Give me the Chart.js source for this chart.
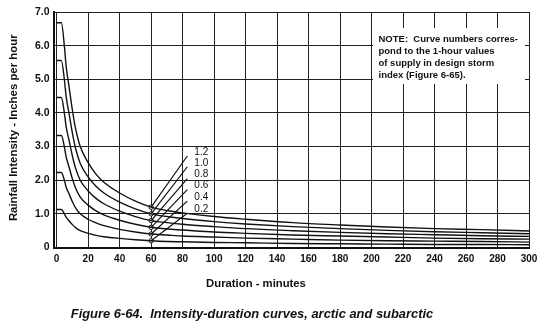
<!DOCTYPE html>
<html>
<head>
<meta charset="utf-8">
<script src="https://cdn.jsdelivr.net/npm/chart.js@4/dist/chart.umd.min.js"></script>
<style>
  html, body { margin: 0; padding: 0; background: #fff; }
  #wrap { width: 550px; height: 335px; position: relative; }
</style>
</head>
<body>
<div id="wrap"><canvas id="c" width="550" height="335"></canvas></div>
<script>
// ---- data ----
const durations = [0, 3, 5, 6, 8, 10, 12, 15, 20, 25, 30, 40, 50, 60, 70, 80, 100, 120, 150, 180, 210, 240, 270, 300];
const curve12 = [6.68, 6.68, 5.94, 5.40, 4.74, 4.08, 3.54, 3.00, 2.52, 2.18, 1.94, 1.62, 1.38, 1.20, 1.10, 1.03, 0.92, 0.84, 0.74, 0.67, 0.61, 0.56, 0.53, 0.49];
const curve10 = [5.56, 5.56, 4.95, 4.50, 3.95, 3.40, 2.95, 2.50, 2.10, 1.82, 1.62, 1.35, 1.15, 1.00, 0.92, 0.86, 0.77, 0.70, 0.62, 0.56, 0.51, 0.47, 0.44, 0.41];
const curve08 = [4.46, 4.46, 3.96, 3.60, 3.16, 2.72, 2.36, 2.00, 1.68, 1.46, 1.30, 1.08, 0.92, 0.80, 0.74, 0.69, 0.62, 0.56, 0.50, 0.45, 0.41, 0.38, 0.35, 0.33];
const curve06 = [3.33, 3.33, 2.97, 2.70, 2.37, 2.04, 1.77, 1.50, 1.26, 1.09, 0.97, 0.81, 0.69, 0.60, 0.55, 0.52, 0.46, 0.42, 0.37, 0.34, 0.31, 0.28, 0.26, 0.25];
const curve04 = [2.23, 2.23, 1.98, 1.80, 1.58, 1.36, 1.18, 1.00, 0.84, 0.73, 0.65, 0.54, 0.46, 0.40, 0.37, 0.34, 0.31, 0.28, 0.25, 0.22, 0.20, 0.19, 0.18, 0.16];
const curve02 = [1.13, 1.13, 0.99, 0.90, 0.79, 0.68, 0.59, 0.50, 0.42, 0.36, 0.32, 0.27, 0.23, 0.20, 0.18, 0.17, 0.15, 0.14, 0.12, 0.11, 0.10, 0.09, 0.09, 0.08];
const curveLabels = ["1.2", "1.0", "0.8", "0.6", "0.4", "0.2"];
const oneHourValues = [1.2, 1.0, 0.8, 0.6, 0.4, 0.2];
const oneHourDuration = 60;
const leaderEndDuration = 83;
const leaderEndValues = [2.72, 2.40, 2.05, 1.72, 1.38, 1.02];
const xTicks = [0, 20, 40, 60, 80, 100, 120, 140, 160, 180, 200, 220, 240, 260, 280, 300];
const yTicks = [0, 1, 2, 3, 4, 5, 6, 7];
const yTitle = "Rainfall Intensity - Inches per hour";
const xTitle = "Duration - minutes";
const caption = "Figure 6-64.  Intensity-duration curves, arctic and subarctic";
const noteLines = ["NOTE:  Curve numbers corres-", "pond to the 1-hour values", "of supply in design storm", "index (Figure 6-65)."];

// ---- build datasets ----
const curves = [curve12, curve10, curve08, curve06, curve04, curve02];
const datasets = [];
curves.forEach((vals, i) => {
  datasets.push({
    label: curveLabels[i],
    data: durations.map((d, j) => ({ x: d, y: vals[j] })),
    borderColor: '#111', borderWidth: 1.4, pointRadius: 0,
    cubicInterpolationMode: 'monotone', fill: false
  });
});
oneHourValues.forEach((v, i) => {
  datasets.push({
    label: 'leader ' + curveLabels[i],
    data: [{ x: oneHourDuration, y: v }, { x: leaderEndDuration, y: leaderEndValues[i] }],
    borderColor: '#111', borderWidth: 1.2, pointRadius: 0, tension: 0, fill: false
  });
});
datasets.push({
  label: 'one-hour points',
  data: oneHourValues.map(v => ({ x: oneHourDuration, y: v })),
  showLine: false, pointRadius: 2.2, pointBorderWidth: 1,
  pointBackgroundColor: '#fff', pointBorderColor: '#111'
});

const FONT = "'Liberation Sans', Arial, sans-serif";

const textPlugin = {
  id: 'texts',
  beforeDatasetsDraw(chart) {
    const { ctx, chartArea: a } = chart;
    ctx.save();
    // white note box
    ctx.fillStyle = '#fff';
    ctx.fillRect(a.left + 319.5, a.top + 16, 152, 56);
    ctx.fillStyle = '#111';
    ctx.font = "bold 9.5px " + FONT;
    ctx.textBaseline = 'middle';
    ctx.textAlign = 'left';
    noteLines.forEach((t, i) => ctx.fillText(t, a.left + 325, a.top + 27.5 + i * 11.8));
    ctx.restore();
  },
  afterDatasetsDraw(chart) {
    const { ctx, chartArea: a, scales: { x, y } } = chart;
    ctx.save();
    ctx.fillStyle = '#111';
    // curve labels at the leader ends
    ctx.font = "10px " + FONT;
    ctx.textAlign = 'left';
    ctx.textBaseline = 'middle';
    curveLabels.forEach((t, i) => {
      ctx.fillText(t, x.getPixelForValue(leaderEndDuration) + 7, y.getPixelForValue(leaderEndValues[i]) - 4);
    });
    // axis titles & caption
    ctx.font = "bold 11.3px " + FONT;
    ctx.textAlign = 'center';
    ctx.fillText(xTitle, 256, 283.5);
    ctx.save();
    ctx.translate(13.5, (a.top + a.bottom) / 2 - 2);
    ctx.rotate(-Math.PI / 2);
    ctx.font = "bold 11.4px " + FONT;
    ctx.fillText(yTitle, 0, 0);
    ctx.restore();
    ctx.font = "italic bold 12.9px " + FONT;
    ctx.fillText(caption, 252, 314);
    ctx.restore();
  }
};

new Chart(document.getElementById('c'), {
  type: 'line',
  data: { datasets },
  options: {
    responsive: false,
    animation: false,
    events: [],
    layout: { padding: { left: 0, top: 12, right: 21, bottom: 0 } },
    plugins: { legend: { display: false }, tooltip: { enabled: false }, title: { display: false } },
    scales: {
      x: {
        type: 'linear', min: -2, max: 300,
        afterBuildTicks(s) { s.ticks = xTicks.map(v => ({ value: v })); },
        afterFit(s) { s.height = 87.5; },
        ticks: { color: '#111', font: { family: FONT, size: 10, weight: 'bold' }, padding: 6, maxRotation: 0, autoSkip: false,
                 callback: v => String(v) },
        grid: { color: '#222', lineWidth: 1, drawTicks: false },
        border: { color: '#111', width: 2 }
      },
      y: {
        type: 'linear', min: 0, max: 7,
        afterBuildTicks(s) { s.ticks = yTicks.map(v => ({ value: v })); },
        afterFit(s) { s.width = 53.5; },
        ticks: { color: '#111', font: { family: FONT, size: 10.5, weight: 'bold' }, padding: 4, autoSkip: false,
                 callback: v => v === 0 ? '0' : v.toFixed(1) },
        grid: { color: '#222', lineWidth: 1, drawTicks: false },
        border: { color: '#111', width: 2 }
      }
    }
  },
  plugins: [textPlugin]
});
</script>
</body>
</html>
